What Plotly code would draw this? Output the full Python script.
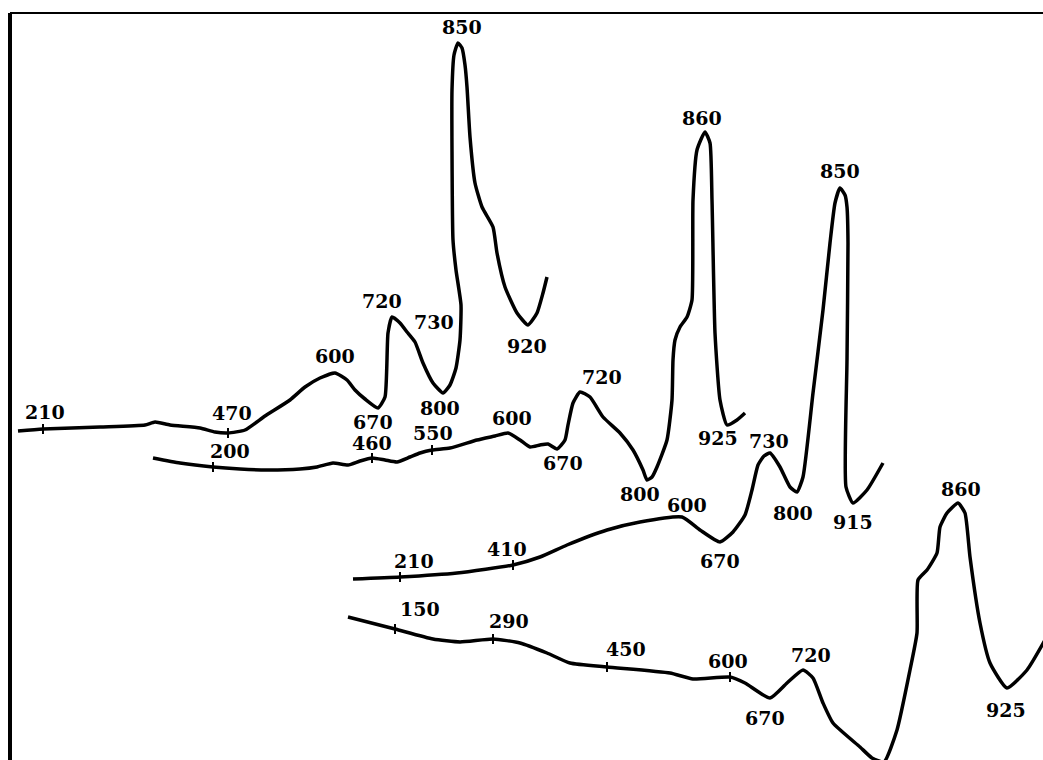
import plotly.graph_objects as go

# ---------------- data (horizontal position, deflection) ----------------
# Curve 1 (top)
c1_x = [18, 43, 100, 145, 155, 170, 200, 215, 228, 245, 265, 290, 305, 320, 335, 347, 355, 365,
        378, 385, 388, 392, 400, 407, 415, 423, 433, 443, 450, 456, 460, 461, 456, 453, 452, 452,
        454, 458, 462, 465, 467, 470, 475, 482, 493, 497, 505, 517, 528, 537, 543, 547]
c1_y = [431, 429, 427, 425, 422, 425, 428, 432, 433, 430, 416, 400, 387, 378, 373, 380, 390, 399,
        408, 397, 333, 317, 323, 332, 342, 363, 383, 393, 385, 368, 340, 305, 270, 240, 150, 90,
        55, 43, 48, 65, 87, 137, 183, 207, 227, 253, 287, 313, 325, 313, 293, 277]
c1_labels = ["210", "470", "600", "670", "720", "730", "800", "850", "920"]
c1_mx = [43, 228, 335, 378, 392, 415, 443, 458, 528]
c1_my = [429, 433, 373, 408, 317, 342, 393, 43, 325]
c1_tick_x = [43, 228]
c1_tick_y = [429, 433]

# Curve 2
c2_x = [153, 180, 213, 240, 267, 300, 317, 333, 348, 360, 372, 385, 397, 410, 420, 432, 450, 477,
        495, 508, 520, 530, 540, 548, 557, 565, 568, 573, 580, 590, 603, 620, 633, 643, 647, 652,
        657, 667, 672, 673, 675, 680, 687, 692, 693, 697, 705, 710, 712, 715, 720, 727, 737, 745]
c2_y = [458, 463, 467, 469, 470, 469, 467, 463, 465, 461, 458, 460, 462, 457, 453, 450, 448, 440,
        436, 433, 440, 447, 445, 444, 449, 440, 425, 403, 392, 397, 417, 433, 450, 470, 480, 477,
        467, 440, 400, 360, 340, 327, 317, 300, 200, 150, 132, 143, 200, 333, 400, 425, 420, 413]
c2_labels = ["200", "460", "550", "600", "670", "720", "800", "860", "925"]
c2_mx = [213, 372, 432, 508, 557, 580, 647, 705, 727]
c2_my = [467, 458, 450, 433, 449, 392, 480, 132, 425]
c2_tick_x = [213, 372, 432]
c2_tick_y = [467, 458, 450]

# Curve 3
c3_x = [353, 400, 457, 513, 540, 567, 607, 640, 682, 700, 720, 733, 745, 752, 758, 764, 770, 780,
        790, 797, 803, 813, 823, 830, 835, 840, 845, 847, 848, 847, 846, 853, 867, 883]
c3_y = [579, 577, 573, 565, 557, 545, 530, 522, 517, 530, 542, 532, 515, 490, 465, 456, 453, 467,
        487, 492, 477, 393, 310, 243, 203, 188, 195, 207, 243, 360, 487, 503, 490, 463]
c3_labels = ["210", "410", "600", "670", "730", "800", "850", "915"]
c3_mx = [400, 513, 682, 720, 770, 797, 840, 853]
c3_my = [577, 565, 517, 542, 453, 492, 188, 503]
c3_tick_x = [400, 513]
c3_tick_y = [577, 565]

# Curve 4 (bottom)
c4_x = [348, 395, 433, 460, 493, 520, 547, 570, 607, 670, 693, 730, 745, 770, 787, 803, 813, 823,
        833, 860, 872, 884, 897, 910, 917, 918, 927, 937, 940, 947, 958, 965, 970, 980, 990, 1007,
        1027, 1045]
c4_y = [617, 629, 639, 642, 639, 643, 653, 663, 667, 673, 679, 677, 683, 698, 683, 670, 678, 703,
        723, 747, 758, 762, 730, 670, 633, 580, 570, 553, 527, 513, 503, 513, 557, 623, 663, 688,
        670, 640]
c4_labels = ["150", "290", "450", "600", "670", "720", "860", "925"]
c4_mx = [395, 493, 607, 730, 770, 803, 958, 1007]
c4_my = [629, 639, 667, 677, 698, 670, 503, 688]
c4_tick_x = [395, 493, 607, 730]
c4_tick_y = [629, 639, 667, 677]

# ---------------- styles (label offsets in screen pixels: right, down) ----------------
c1_off = [(2, -17), (4, -20), (0, -17), (-5, 14), (-10, -16), (19, -20), (-3, 15), (4, -16), (-1, 21)]
c2_off = [(17, -16), (0, -15), (1, -17), (4, -15), (6, 14), (22, -15), (-7, 14), (-3, -14), (-9, 13)]
c3_off = [(14, -16), (-6, -16), (5, -12), (0, 19), (-1, -12), (-4, 21), (0, -17), (0, 19)]
c4_off = [(25, -20), (16, -18), (19, -18), (-2, -16), (-5, 20), (8, -15), (3, -14), (-1, 22)]

FONT = dict(family="DejaVu Serif", size=19, color="black", weight="bold")
LINE = dict(color="black", width=3.5, shape="spline", smoothing=0.5)

curves = [
    (c1_x, c1_y, c1_labels, c1_mx, c1_my, c1_off, c1_tick_x, c1_tick_y),
    (c2_x, c2_y, c2_labels, c2_mx, c2_my, c2_off, c2_tick_x, c2_tick_y),
    (c3_x, c3_y, c3_labels, c3_mx, c3_my, c3_off, c3_tick_x, c3_tick_y),
    (c4_x, c4_y, c4_labels, c4_mx, c4_my, c4_off, c4_tick_x, c4_tick_y),
]

fig = go.Figure()
annotations = []
for xs, ys, labels, mx, my, off, tx, ty in curves:
    fig.add_trace(go.Scatter(x=xs, y=ys, mode="lines", line=LINE, hoverinfo="skip"))
    fig.add_trace(go.Scatter(x=tx, y=ty, mode="markers",
                             marker=dict(symbol="line-ns", size=7,
                                         line=dict(color="black", width=2)),
                             hoverinfo="skip"))
    for lab, x, y, (dx, dy) in zip(labels, mx, my, off):
        annotations.append(dict(x=x, y=y, xref="x", yref="y", text=lab, showarrow=False,
                                xshift=dx, yshift=-dy, font=FONT,
                                xanchor="center", yanchor="middle"))

fig.update_layout(
    width=1043, height=760,
    margin=dict(l=0, r=0, t=0, b=0),
    paper_bgcolor="white", plot_bgcolor="white",
    showlegend=False,
    xaxis=dict(range=[0, 1043], visible=False, fixedrange=True),
    yaxis=dict(range=[760, 0], visible=False, fixedrange=True),
    annotations=annotations,
    shapes=[
        dict(type="line", xref="x", yref="y", x0=10, x1=10, y0=13, y1=760,
             line=dict(color="black", width=4)),
        dict(type="line", xref="x", yref="y", x0=10, x1=1043, y0=13, y1=13,
             line=dict(color="black", width=2)),
    ],
)

fig.write_html("out.html")
